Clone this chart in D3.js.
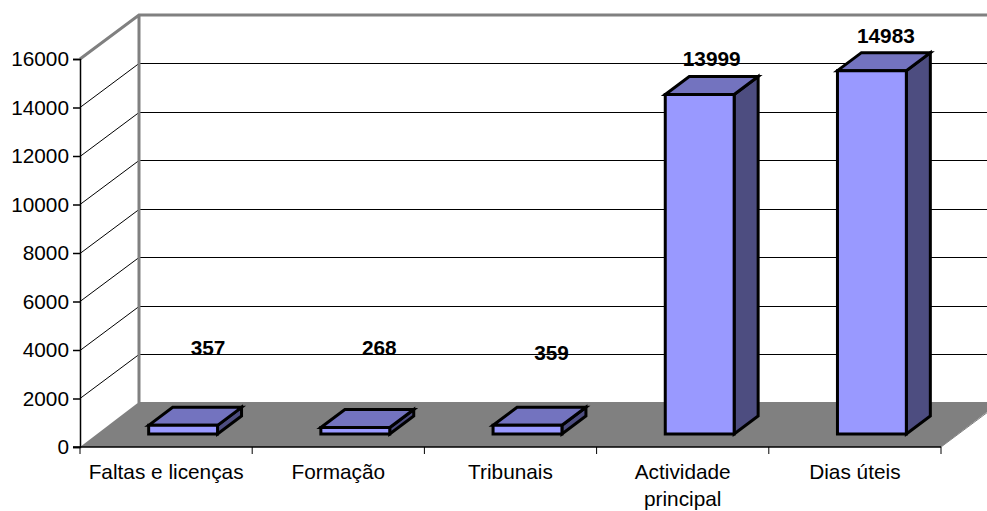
<!DOCTYPE html>
<html><head><meta charset="utf-8">
<script src="https://cdnjs.cloudflare.com/ajax/libs/d3/7.8.5/d3.min.js"></script>
<style>html,body{margin:0;padding:0;background:#fff;overflow:hidden}svg{display:block}text{font-family:"Liberation Sans",Arial,sans-serif;fill:#000}</style>
</head><body><svg id="c" width="987" height="511"></svg>
<script>
const categories=[["Faltas e licenças"],["Formação"],["Tribunais"],["Actividade","principal"],["Dias úteis"]];
const values=[357,268,359,13999,14983];
const yTicks=[0,2000,4000,6000,8000,10000,12000,14000,16000];

const W=987,H=511,x0=80,x1=941,y0=447,y1=59,wallDx=59,wallDy=44,barDx=24,barDy=18,barLift=13,barShift=17,fs=20.8;
const labelNudge=[[13,-52],[12,-55],[12,-47],[0,-11],[2,-10]];
const svg=d3.select("#c");
const x=d3.scaleBand().domain(d3.range(categories.length)).range([x0,x1]).padding(0);
const y=d3.scaleLinear().domain([0,16000]).range([y0,y1]);
const bw=x.bandwidth()*0.4;
const poly=(pts,fill,stroke,sw)=>svg.append("polygon").attr("points",pts.map(p=>p.join(",")).join(" ")).attr("fill",fill).attr("stroke",stroke||"none").attr("stroke-width",sw||0).attr("stroke-linejoin","miter");

// floor
poly([[x0,y0],[x0+wallDx,y0-wallDy-1],[x1+wallDx,y0-wallDy-1],[x1,y0]],"#808080");

// gridlines
yTicks.slice(1,-1).forEach(t=>{
  const yy=Math.floor(y(t))+0.5;
  svg.append("line").attr("x1",x0).attr("y1",yy).attr("x2",x0+wallDx).attr("y2",yy-wallDy).attr("stroke","#000").attr("stroke-width",1);
  svg.append("line").attr("x1",x0+wallDx).attr("y1",yy-wallDy).attr("x2",W).attr("y2",yy-wallDy).attr("stroke","#000").attr("stroke-width",1);
});

// wall frame
svg.append("path").attr("fill","none").attr("stroke","#808080").attr("stroke-width",3)
  .attr("d",`M${x0},${y1}L${x0+wallDx},${y1-wallDy}L${W+5},${y1-wallDy}M${x0+wallDx},${y1-wallDy}L${x0+wallDx},${y0-wallDy}`);

// floor right edge
svg.append("line").attr("x1",x1).attr("y1",y0).attr("x2",x1+wallDx).attr("y2",y0-wallDy).attr("stroke","#808080").attr("stroke-width",1);

// bars
values.forEach((v,i)=>{
  const l=x(i)+(x.bandwidth()-bw)/2+barShift, r=l+bw, b=y0-barLift, t=y(v)-barLift;
  const sw=3;
  poly([[r,t],[r+barDx,t-barDy],[r+barDx,b-barDy],[r,b]],"#4d4d80","#000",sw);
  poly([[l,t],[l+barDx,t-barDy],[r+barDx,t-barDy],[r,t]],"#7373bf","#000",sw);
  poly([[l,t],[r,t],[r,b],[l,b]],"#9999ff","#000",sw);
});

// axes
const yAxis=d3.axisLeft(y).tickValues(yTicks).tickSize(7).tickPadding(4).tickFormat(d3.format("d"));
const gy=svg.append("g").attr("transform",`translate(${x0},0)`).call(yAxis);
gy.selectAll("text").attr("font-size",fs).style("font-family",'"Liberation Sans",Arial,sans-serif').attr("dy","0.33em");
gy.selectAll("line,path").attr("stroke","#000").attr("stroke-width",1.5);

svg.append("line").attr("x1",x0-7).attr("x2",x1).attr("y1",y0).attr("y2",y0).attr("stroke","#000").attr("stroke-width",1.5);
d3.range(categories.length+1).forEach(i=>{
  const xx=i<categories.length?x(i):x1;
  svg.append("line").attr("x1",xx).attr("x2",xx).attr("y1",y0).attr("y2",y0+7).attr("stroke","#000").attr("stroke-width",1);
});
categories.forEach((c,i)=>{
  const t=svg.append("text").attr("text-anchor","middle").attr("font-size",fs);
  c.forEach((s,k)=>t.append("tspan").attr("x",x(i)+x.bandwidth()/2).attr("y",479+k*27).text(s));
});

// value labels
values.forEach((v,i)=>{
  const bc=x(i)+x.bandwidth()/2+barShift+barDx/2;
  svg.append("text").attr("x",bc+labelNudge[i][0]).attr("y",y(v)-barLift-barDy+labelNudge[i][1])
    .attr("text-anchor","middle").attr("font-size",fs).attr("font-weight","bold").text(v);
});
</script></body></html>
